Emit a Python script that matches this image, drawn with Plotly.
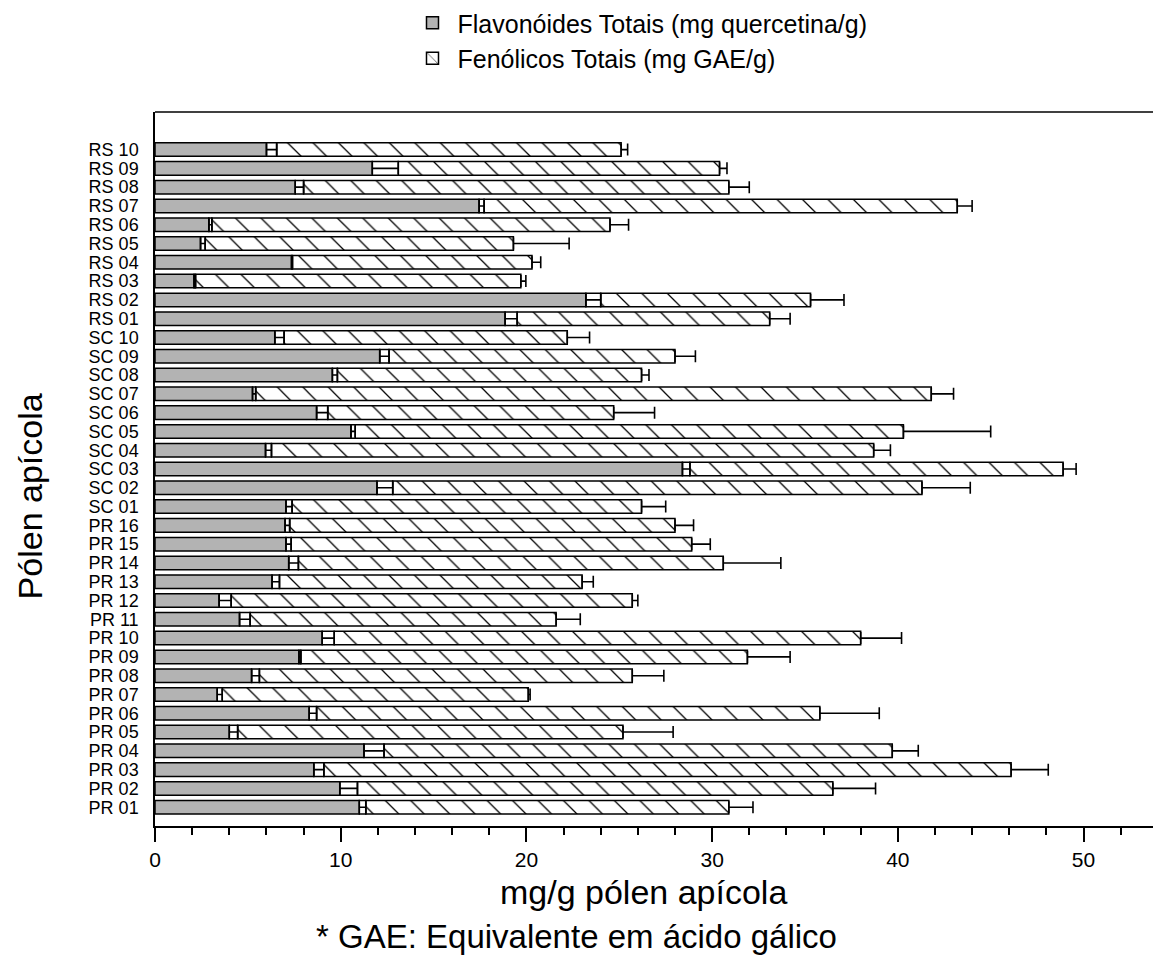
import numpy as np
import plotly.graph_objects as go

samples = ["PR 01", "PR 02", "PR 03", "PR 04", "PR 05", "PR 06", "PR 07", "PR 08",
           "PR 09", "PR 10", "PR 11", "PR 12", "PR 13", "PR 14", "PR 15", "PR 16",
           "SC 01", "SC 02", "SC 03", "SC 04", "SC 05", "SC 06", "SC 07", "SC 08",
           "SC 09", "SC 10",
           "RS 01", "RS 02", "RS 03", "RS 04", "RS 05", "RS 06", "RS 07", "RS 08",
           "RS 09", "RS 10"]

flavonoides = [11.0, 9.95, 8.55, 11.25, 4.0, 8.3, 3.35, 5.2,
               7.75, 9.0, 4.55, 3.45, 6.3, 7.2, 7.05, 7.0,
               7.05, 11.95, 28.4, 5.95, 10.55, 8.7, 5.25, 9.55,
               12.1, 6.45,
               18.85, 23.2, 2.1, 7.35, 2.45, 2.9, 17.45, 7.55,
               11.7, 6.0]

flavonoides_err = [0.35, 0.95, 0.54, 1.08, 0.45, 0.4, 0.27, 0.42,
                   0.1, 0.65, 0.57, 0.65, 0.4, 0.52, 0.28, 0.25,
                   0.33, 0.85, 0.4, 0.32, 0.23, 0.6, 0.17, 0.27,
                   0.5, 0.5,
                   0.65, 0.8, 0.08, 0.05, 0.25, 0.16, 0.27, 0.45,
                   1.4, 0.55]

fenolicos = [30.9, 36.5, 46.1, 39.7, 25.2, 35.8, 20.1, 25.7,
             31.9, 38.0, 21.6, 25.7, 23.0, 30.6, 28.9, 28.0,
             26.2, 41.3, 48.9, 38.7, 40.3, 24.7, 41.8, 26.2,
             28.0, 22.2,
             33.1, 35.3, 19.7, 20.3, 19.3, 24.5, 43.2, 30.9,
             30.4, 25.1]

fenolicos_err = [1.3, 2.3, 2.0, 1.4, 2.7, 3.2, 0.1, 1.7,
                 2.3, 2.2, 1.3, 0.3, 0.6, 3.1, 1.0, 1.0,
                 1.3, 2.6, 0.7, 0.9, 4.7, 2.2, 1.2, 0.4,
                 1.1, 1.2,
                 1.1, 1.8, 0.27, 0.47, 3.0, 1.0, 0.8, 1.1,
                 0.4, 0.35]

x_ticks = [0, 10, 20, 30, 40, 50]

F = np.array(flavonoides)
eF = np.array(flavonoides_err)
P = np.array(fenolicos)
eP = np.array(fenolicos_err)
zeros = np.zeros(len(samples))

FONT = "Liberation Sans, Arial, sans-serif"
BW = 0.72

fig = go.Figure()

# Hatched phenolics bar (starts after flavonoid error cap)
fig.add_trace(go.Bar(
    y=samples, x=P - F - eF, base=F + eF, orientation="h", width=BW,
    name="Fenólicos Totais (mg GAE/g)", legendrank=2,
    marker=dict(color="white", line=dict(color="black", width=1.5),
                pattern=dict(shape="\\", fgcolor="black", bgcolor="white",
                             size=18, solidity=0.07, fillmode="replace")),
    error_x=dict(type="data", symmetric=False, array=eP, arrayminus=zeros,
                 color="black", thickness=1.6, width=6),
))

# White gap spanning the flavonoid error
fig.add_trace(go.Bar(
    y=samples, x=eF, base=F, orientation="h", width=BW, showlegend=False,
    marker=dict(color="white", line=dict(color="black", width=1.5)),
    hoverinfo="skip",
))

# Gray flavonoid bar
fig.add_trace(go.Bar(
    y=samples, x=F, orientation="h", width=BW,
    name="Flavonóides Totais (mg quercetina/g)", legendrank=1,
    marker=dict(color="#b3b3b3", line=dict(color="black", width=1.5)),
    error_x=dict(type="data", symmetric=False, array=eF, arrayminus=zeros,
                 color="black", thickness=1.6, width=6),
))

fig.update_layout(
    width=1153, height=969,
    margin=dict(l=155, r=0, t=110, b=143),
    barmode="overlay",
    plot_bgcolor="white", paper_bgcolor="white",
    font=dict(family=FONT, color="black"),
    showlegend=True,
    legend=dict(x=0.253, y=1.157, xanchor="left", yanchor="top",
                font=dict(size=25, family=FONT), bgcolor="rgba(0,0,0,0)",
                tracegroupgap=0, itemwidth=40),
    xaxis=dict(range=[0, 53.74], showline=True, linecolor="black", linewidth=1.5,
               ticks="outside", ticklen=14, tickwidth=1.5, tickcolor="black",
               tickmode="array", tickvals=x_ticks, tickfont=dict(size=21),
               minor=dict(dtick=2, tick0=0, ticks="outside", ticklen=7, tickwidth=1.5,
                          tickcolor="black", showgrid=False),
               showgrid=False, zeroline=False),
    yaxis=dict(type="category", categoryorder="array", categoryarray=samples,
               tickmode="array", tickvals=samples, ticktext=samples,
               range=[-1, 37], showline=True, linecolor="black", linewidth=1.5,
               ticks="", tickfont=dict(size=18), ticklabelstandoff=11,
               showgrid=False, zeroline=False),
    shapes=[dict(type="line", xref="paper", yref="paper", x0=0, x1=1, y0=1, y1=1,
                 line=dict(color="black", width=1.5))],
    annotations=[
        dict(text="mg/g pólen apícola", xref="paper", yref="paper",
             x=0.489, y=-0.093, xanchor="center", yanchor="middle",
             showarrow=False, font=dict(size=34, family=FONT)),
        dict(text="* GAE: Equivalente em ácido gálico", xref="paper", yref="paper",
             x=0.422, y=-0.1545, xanchor="center", yanchor="middle",
             showarrow=False, font=dict(size=33, family=FONT)),
        dict(text="Pólen apícola", xref="paper", yref="paper",
             x=-0.125, y=0.462, xanchor="center", yanchor="middle",
             textangle=-90, showarrow=False, font=dict(size=34, family=FONT)),
    ],
)

fig.write_html("out.html")
